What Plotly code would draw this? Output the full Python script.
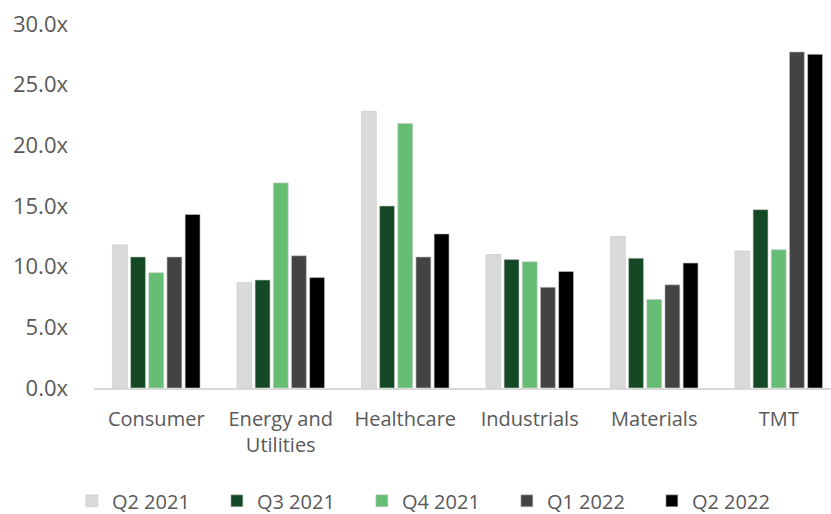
import plotly.graph_objects as go

categories = ["Consumer", "Energy and<br>Utilities", "Healthcare", "Industrials", "Materials", "TMT"]
series_names = ["Q2 2021", "Q3 2021", "Q4 2021", "Q1 2022", "Q2 2022"]
q2_2021 = [11.8, 8.7, 22.8, 11.0, 12.5, 11.3]
q3_2021 = [10.8, 8.9, 15.0, 10.6, 10.7, 14.7]
q4_2021 = [9.5, 16.9, 21.8, 10.4, 7.3, 11.4]
q1_2022 = [10.8, 10.9, 10.8, 8.3, 8.5, 27.7]
q2_2022 = [14.3, 9.1, 12.7, 9.6, 10.3, 27.5]
y_ticks = [0, 5, 10, 15, 20, 25, 30]

series_values = [q2_2021, q3_2021, q4_2021, q1_2022, q2_2022]
colors = ["#D9DADA", "#134A25", "#66BE74", "#434343", "#000000"]

fig = go.Figure()
for name, vals, col in zip(series_names, series_values, colors):
    fig.add_trace(go.Bar(
        x=categories, y=vals, name=name,
        marker=dict(color=col, line=dict(color="rgba(200,200,200,0.6)", width=1)),
    ))

font_family = "Open Sans, sans-serif"
fig.update_layout(
    width=831, height=514,
    margin=dict(l=94, r=0, t=24, b=126, autoexpand=False),
    paper_bgcolor="white", plot_bgcolor="white",
    barmode="group", bargap=0.27, bargroupgap=0.18,
    font=dict(family=font_family, color="#595959", size=20),
    showlegend=True,
    legend=dict(orientation="h", x=-0.03, xanchor="left", y=-0.31, yanchor="middle",
                font=dict(size=20, color="#595959"), traceorder="normal",
                itemwidth=30, entrywidth=100, entrywidthmode="pixels"),
    xaxis=dict(range=[-0.5, 5.42], showline=True, linecolor="#D9D9D9", linewidth=2,
               ticks="", showgrid=False, ticklabelstandoff=12,
               tickfont=dict(size=20, color="#595959")),
    yaxis=dict(range=[0, 30], tickvals=y_ticks,
               ticktext=[f"{v:.1f}x" for v in y_ticks],
               showgrid=False, zeroline=False, showline=False,
               ticks="", ticklabelstandoff=25,
               tickfont=dict(size=22, color="#595959")),
)

fig.write_html("out.html")
